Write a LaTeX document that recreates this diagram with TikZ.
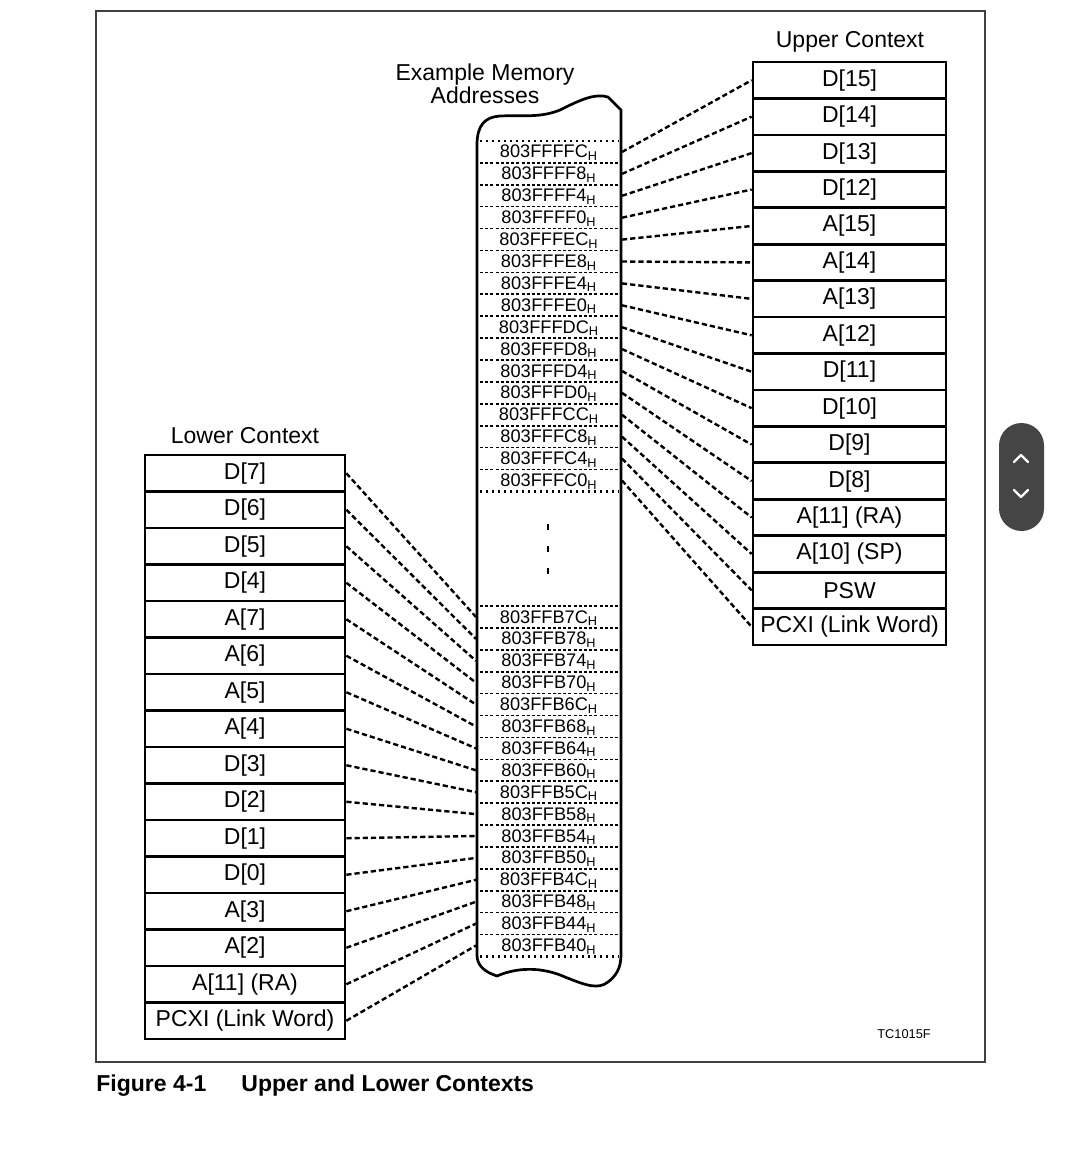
\documentclass[tikz,border=0pt]{standalone}
\usepackage{fontspec}
\setmainfont{Liberation Sans}
\begin{document}
\begin{tikzpicture}[x=0.5pt,y=-0.5pt,
  ubox/.style={draw, line width=1.35pt, minimum width=96.5pt, minimum height=18.22pt, inner sep=0pt, font=\fontsize{11.5pt}{13pt}\selectfont},
  lbox/.style={draw, line width=1.35pt, minimum width=100pt, minimum height=18.25pt, inner sep=0pt, font=\fontsize{11.5pt}{13pt}\selectfont},
  addr/.style={font=\fontsize{9.1pt}{10pt}\selectfont, inner sep=0pt, anchor=base},
  conn/.style={line width=1.2pt, dash pattern=on 2.6pt off 1.5pt},
  rowdash/.style={line width=0.8pt, dash pattern=on 1.5pt off 1.1pt},
  rowdot/.style={line width=1.1pt, dash pattern=on 0.9pt off 2.1pt},
  ttl/.style={font=\fontsize{11.5pt}{13pt}\selectfont, align=center, inner sep=0pt}]
\useasboundingbox (0,0) rectangle (1080,1171);
\fill[white] (0,0) rectangle (1080,1171);
% frame
\draw[line width=0.75pt, black!75] (96,11) rectangle (985,1062);
% titles
\node[ttl] (tmem) at (485,84) {Example Memory\\[-1.5pt]Addresses};
\node[ttl] (tup) at (850,42) {Upper Context};
\node[ttl] (tlow) at (245,436) {Lower Context};
% memory column outline
\draw[line width=1.35pt, line join=round]
  (477,955) -- (477,145) .. controls (477,125) and (485,117) .. (500,116)
  .. controls (525,115) and (540,118) .. (560,110)
  .. controls (580,100) and (595,93) .. (608,97) -- (621,110) -- (621,955)
  .. controls (621,968) and (616,976) .. (608,982)
  .. controls (598,990) and (585,985) .. (565,977)
  .. controls (545,968) and (520,966) .. (497,976)
  .. controls (485,972) and (477,966) .. (477,955);
% upper address block
\draw[rowdot] (480,141) -- (619,141);
\draw[rowdot] (480,491.4) -- (619,491.4);
\foreach \k in {1,...,15} \draw[rowdash] (480,{141+21.9*\k}) -- (619,{141+21.9*\k});
\foreach \a [count=\i from 0] in {FFFC,FFF8,FFF4,FFF0,FFEC,FFE8,FFE4,FFE0,FFDC,FFD8,FFD4,FFD0,FFCC,FFC8,FFC4,FFC0}
  \node[addr] (u\i) at (549,{158+21.9*\i}) {803F\a\textsubscript{H}};
% lower address block
\draw[rowdash] (480,606) -- (619,606);
\draw[rowdot] (480,956.4) -- (619,956.4);
\foreach \k in {1,...,15} \draw[rowdash] (480,{606+21.9*\k}) -- (619,{606+21.9*\k});
\foreach \a [count=\i from 0] in {FB7C,FB78,FB74,FB70,FB6C,FB68,FB64,FB60,FB5C,FB58,FB54,FB50,FB4C,FB48,FB44,FB40}
  \node[addr] (l\i) at (549,{623+21.9*\i}) {803F\a\textsubscript{H}};
% vertical ellipsis
\foreach \yy in {527,549,571} \draw[line width=0.8pt] (548,\yy-3) -- (548,\yy+3);
% upper context
\foreach \t [count=\i from 0] in {D[15],D[14],D[13],D[12],A[15],A[14],A[13],A[12],D[11],D[10],D[9],D[8],A[11] (RA),A[10] (SP),PSW,PCXI (Link Word)}
  \node[ubox] (U\i) at (849.5,{80.22+36.44*\i}) {\t};
% lower context
\foreach \t [count=\i from 0] in {D[7],D[6],D[5],D[4],A[7],A[6],A[5],A[4],D[3],D[2],D[1],D[0],A[3],A[2],A[11] (RA),PCXI (Link Word)}
  \node[lbox] (L\i) at (245,{473.25+36.5*\i}) {\t};
% connectors
\foreach \i in {0,...,15} {
  \coordinate (ur\i) at (622,{152+21.9*\i});
  \draw[conn] (ur\i) -- (U\i.west);
  \coordinate (ll\i) at (476,{617+21.9*\i});
  \draw[conn] (L\i.east) -- (ll\i);
}
% id
\node[font=\fontsize{6.4pt}{7pt}\selectfont, inner sep=0pt] (tc) at (904,1034) {TC1015F};
% caption
\node[font=\bfseries\fontsize{11.5pt}{13pt}\selectfont, anchor=base west, inner sep=0pt] (fig) at (96,1091) {Figure 4-1};
\node[font=\bfseries\fontsize{11.5pt}{13pt}\selectfont, anchor=base west, inner sep=0pt] (cap) at (241,1091) {Upper and Lower Contexts};
% scroll widget
\fill[black!73, rounded corners=11.25pt] (999,423) rectangle (1044,531);
\draw[white, line width=1.2pt, line cap=round, line join=round] (1014,462) -- (1021,455) -- (1028,462);
\draw[white, line width=1.2pt, line cap=round, line join=round] (1014,490) -- (1021,497) -- (1028,490);
\end{tikzpicture}
\end{document}
